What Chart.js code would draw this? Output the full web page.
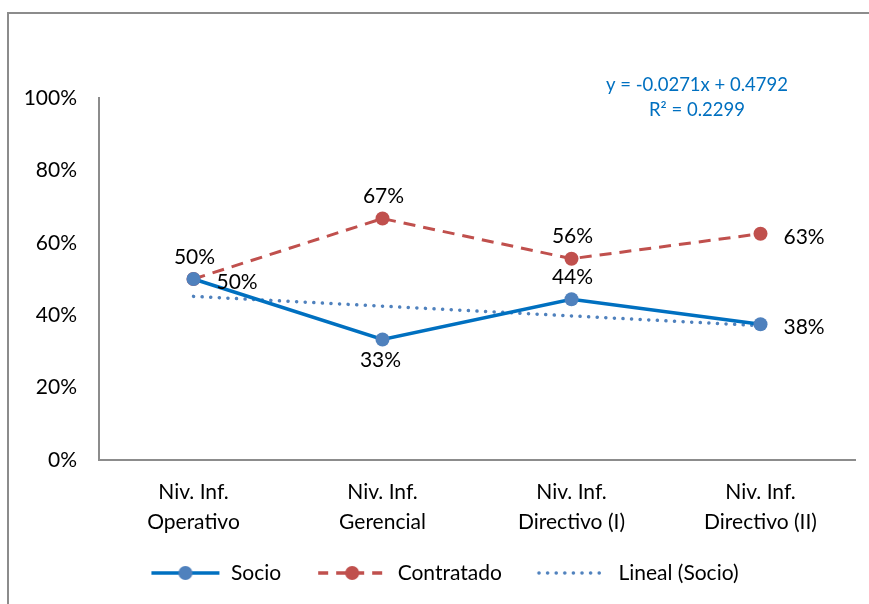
<!DOCTYPE html>
<html>
<head>
<meta charset="utf-8">
<script src="https://cdn.jsdelivr.net/npm/chart.js@4/dist/chart.umd.min.js"></script>
<style>
  html, body { margin: 0; padding: 0; background: #fff; }
  #wrap { width: 869px; height: 604px; position: relative; }
</style>
</head>
<body>
<div id="wrap"><canvas id="c"></canvas></div>
<script>
// datos
const categorias = [['Niv. Inf.', 'Operativo'], ['Niv. Inf.', 'Gerencial'], ['Niv. Inf.', 'Directivo (I)'], ['Niv. Inf.', 'Directivo (II)']];
const socio = [0.50, 0.333, 0.444, 0.375];
const contratado = [0.50, 0.667, 0.556, 0.625];
const linealSocio = [0.452, 0.425, 0.398, 0.371];
const etiquetasSocio = ['50%', '33%', '44%', '38%'];
const etiquetasContratado = ['50%', '67%', '56%', '63%'];
const posSocio = ['right', 'below', 'above', 'right'];
const posContratado = ['above', 'above', 'above', 'right'];
const ecuacion = ['y = -0.0271x + 0.4792', 'R² = 0.2299'];

const FONT = 'Lato, "Open Sans", sans-serif';
const FS = 21;
const AZUL = '#0070C0', AZUL_M = '#4F81BD', ROJO = '#C0504D';

// iconos de leyenda (linea + marcador), con 14px libres a la izquierda
function icono(color, dash, marker, markerColor, cap) {
  var cv = document.createElement('canvas');
  cv.width = 84; cv.height = 18;
  var c = cv.getContext('2d');
  c.strokeStyle = color; c.lineWidth = 3.5; c.setLineDash(dash); c.lineCap = cap || 'butt';
  c.beginPath(); c.moveTo(15, 9); c.lineTo(83, 9); c.stroke();
  if (marker) {
    c.setLineDash([]);
    c.fillStyle = markerColor;
    c.beginPath(); c.arc(49, 9, 7, 0, Math.PI * 2); c.fill();
  }
  return cv;
}
const iconSocio = icono(AZUL, [], true, AZUL_M);
const iconContr = icono(ROJO, [10, 8], true, ROJO);
const iconLineal = icono(AZUL_M, [0.1, 8.5], false, null, 'round');

const etiquetas = {
  id: 'etiquetas',
  afterDatasetsDraw(chart) {
    const ctx = chart.ctx;
    ctx.save();
    ctx.font = FS + 'px ' + FONT;
    ctx.fillStyle = '#000';
    ctx.textBaseline = 'middle';
    [[0, etiquetasSocio, posSocio], [1, etiquetasContratado, posContratado]].forEach(function (d) {
      const meta = chart.getDatasetMeta(d[0]);
      meta.data.forEach(function (pt, i) {
        const p = d[2][i];
        if (p === 'right') { ctx.textAlign = 'left'; ctx.fillText(d[1][i], pt.x + 23, pt.y + 3); }
        else if (p === 'above') { ctx.textAlign = 'center'; ctx.fillText(d[1][i], pt.x + 1, pt.y - 22); }
        else { ctx.textAlign = 'center'; ctx.fillText(d[1][i], pt.x - 2, pt.y + 21); }
      });
    });
    // ecuacion de tendencia
    ctx.font = '18.5px ' + FONT;
    ctx.fillStyle = AZUL;
    ctx.textAlign = 'center';
    ctx.fillText(ecuacion[0], 697, 85);
    ctx.fillText(ecuacion[1], 697, 110);
    // marco
    ctx.strokeStyle = '#8c8c8c'; ctx.lineWidth = 2;
    ctx.beginPath(); ctx.moveTo(8, 604); ctx.lineTo(8, 13); ctx.lineTo(869, 13); ctx.stroke();
    ctx.restore();
  }
};

new Chart(document.getElementById('c'), {
  type: 'line',
  data: {
    labels: categorias,
    datasets: [
      { label: 'Socio', data: socio, borderColor: AZUL, borderWidth: 3.5, pointStyle: 'circle', pointRadius: 7, pointHoverRadius: 7,
        pointBackgroundColor: AZUL_M, pointBorderWidth: 0, tension: 0, order: 1 },
      { label: 'Contratado', data: contratado, borderColor: ROJO, borderWidth: 3, borderDash: [12, 8], pointStyle: 'circle', pointRadius: 7, pointHoverRadius: 7,
        pointBackgroundColor: ROJO, pointBorderWidth: 0, tension: 0, order: 2 },
      { label: 'Lineal (Socio)', data: linealSocio, borderColor: AZUL_M, borderWidth: 3.5, borderDash: [0.1, 8.5], borderCapStyle: 'round',
        pointRadius: 0, tension: 0, order: 3 }
    ]
  },
  options: {
    responsive: true,
    maintainAspectRatio: false,
    animation: false,
    layout: { padding: { left: 20, right: 14, top: 98, bottom: 10.5 } },
    plugins: {
      tooltip: { enabled: false },
      legend: {
        position: 'bottom',
        labels: {
          usePointStyle: true, pointStyleWidth: 84, padding: 22, boxHeight: 18,
          color: '#000', font: { family: FONT, size: FS },
          generateLabels(chart) {
            const icons = [iconSocio, iconContr, iconLineal];
            return chart.data.datasets.map(function (ds, i) {
              return { text: ds.label, pointStyle: icons[i], datasetIndex: i, fontColor: '#000', lineWidth: 0, strokeStyle: 'transparent', fillStyle: 'transparent' };
            });
          }
        }
      }
    },
    scales: {
      x: {
        offset: true,
        grid: { display: false, drawTicks: false },
        border: { display: true, color: '#8c8c8c', width: 2 },
        ticks: { color: '#000', font: { family: FONT, size: FS, lineHeight: 1.4 }, padding: 18, maxRotation: 0 },
        afterFit(s) { s.height = 80.5; }
      },
      y: {
        min: 0, max: 1,
        grid: { display: false, drawTicks: false },
        border: { display: true, color: '#8c8c8c', width: 2 },
        ticks: { stepSize: 0.2, color: '#000', font: { family: FONT, size: FS }, padding: 22,
          callback(v) { return Math.round(v * 100) + '%'; } },
        afterFit(s) { s.width = 79; }
      }
    }
  },
  plugins: [etiquetas]
});
</script>
</body>
</html>
